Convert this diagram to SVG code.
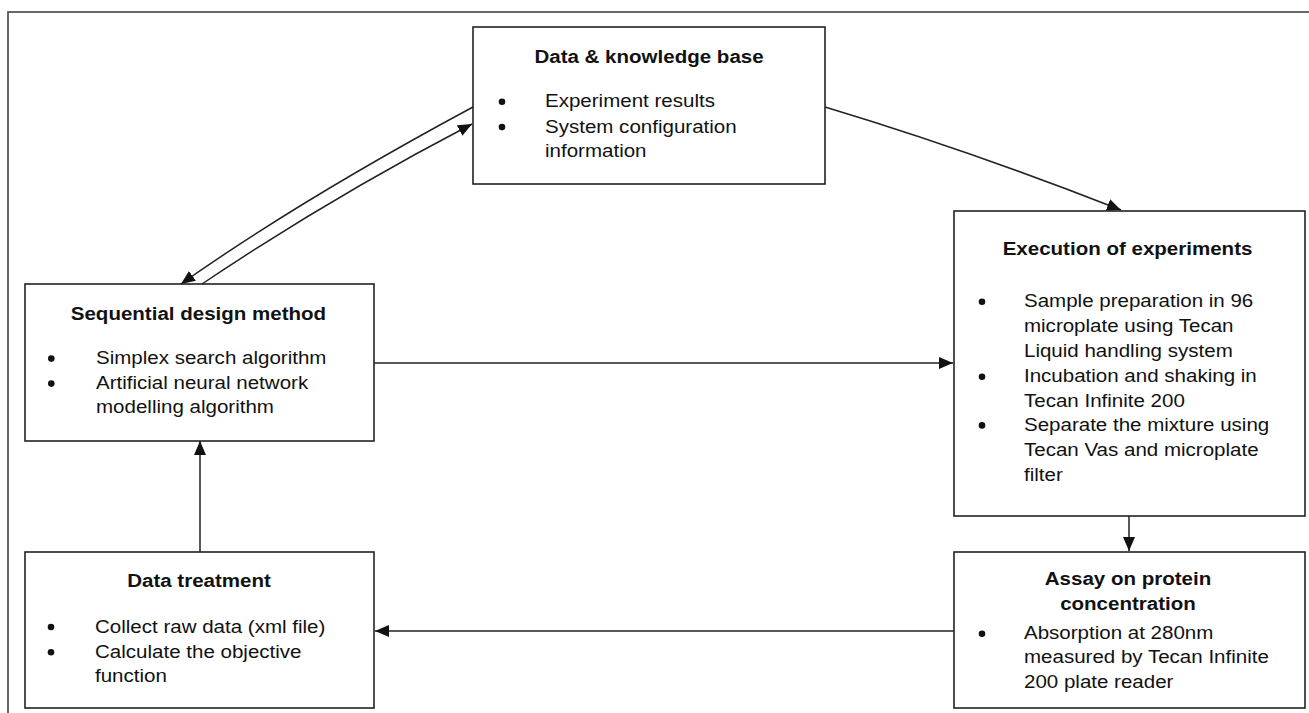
<svg xmlns="http://www.w3.org/2000/svg" width="1309" height="713" viewBox="0 0 1309 713">
<defs>
<marker id="arr" viewBox="0 0 14 12" refX="14" refY="6" markerWidth="14" markerHeight="12" markerUnits="userSpaceOnUse" orient="auto">
<path d="M0,0 L14,6 L0,12 Z" fill="#111"/>
</marker>
<style>
.box{fill:#fff;stroke:#222;stroke-width:1.6}
.frame{fill:none;stroke:#444;stroke-width:1.6}
.conn{fill:none;stroke:#222;stroke-width:1.5;marker-end:url(#arr)}
.t{font-family:"Liberation Sans",Arial,sans-serif;font-size:18.5px;fill:#111}
.h{font-weight:bold;text-anchor:middle}
.b{fill:#111}
</style>
</defs>
<rect x="0" y="0" width="1309" height="713" fill="#fff"/>
<rect class="frame" x="8" y="12" width="1320" height="720"/>

<g id="data-knowledge-base">
<rect class="box" x="473" y="27" width="352" height="157"/>
<circle class="b" cx="502" cy="101.7" r="3.3"/>
<circle class="b" cx="502" cy="127.1" r="3.3"/>
<g transform="scale(1.11 1)">
<text class="t h" x="584.7" y="63">Data &amp; knowledge base</text>
<text class="t" x="491" y="107.3">Experiment results</text>
<text class="t" x="491" y="132.7">System configuration</text>
<text class="t" x="491" y="157">information</text>
</g>
</g>

<g id="sequential-design-method">
<rect class="box" x="25" y="284" width="349" height="157"/>
<circle class="b" cx="51.3" cy="358.6" r="3.3"/>
<circle class="b" cx="51.3" cy="383.6" r="3.3"/>
<g transform="scale(1.11 1)">
<text class="t h" x="178.8" y="320.5">Sequential design method</text>
<text class="t" x="86.5" y="364.3">Simplex search algorithm</text>
<text class="t" x="86.5" y="389.3">Artificial neural network</text>
<text class="t" x="86.5" y="413.5">modelling algorithm</text>
</g>
</g>

<g id="data-treatment">
<rect class="box" x="25" y="552" width="349" height="156"/>
<circle class="b" cx="51" cy="627" r="3.3"/>
<circle class="b" cx="51" cy="652.3" r="3.3"/>
<g transform="scale(1.11 1)">
<text class="t h" x="179.3" y="587.3">Data treatment</text>
<text class="t" x="85.6" y="632.7">Collect raw data (xml file)</text>
<text class="t" x="85.6" y="658">Calculate the objective</text>
<text class="t" x="85.6" y="681.7">function</text>
</g>
</g>

<g id="execution-of-experiments">
<rect class="box" x="954" y="211" width="351" height="305"/>
<circle class="b" cx="982" cy="301.7" r="3.3"/>
<circle class="b" cx="982" cy="376.7" r="3.3"/>
<circle class="b" cx="982" cy="425.4" r="3.3"/>
<g transform="scale(1.11 1)">
<text class="t h" x="1015.8" y="255">Execution of experiments</text>
<text class="t" x="922.5" y="307.3">Sample preparation in 96</text>
<text class="t" x="922.5" y="332.3">microplate using Tecan</text>
<text class="t" x="922.5" y="356.7">Liquid handling system</text>
<text class="t" x="922.5" y="382.3">Incubation and shaking in</text>
<text class="t" x="922.5" y="406.7">Tecan Infinite 200</text>
<text class="t" x="922.5" y="431">Separate the mixture using</text>
<text class="t" x="922.5" y="456">Tecan Vas and microplate</text>
<text class="t" x="922.5" y="480.7">filter</text>
</g>
</g>

<g id="assay-protein-concentration">
<rect class="box" x="954" y="552" width="351" height="156"/>
<circle class="b" cx="982" cy="633.7" r="3.3"/>
<g transform="scale(1.11 1)">
<text class="t h" x="1016.2" y="585">Assay on protein</text>
<text class="t h" x="1016.2" y="610">concentration</text>
<text class="t" x="922.5" y="639.3">Absorption at 280nm</text>
<text class="t" x="922.5" y="663.3">measured by Tecan Infinite</text>
<text class="t" x="922.5" y="687.7">200 plate reader</text>
</g>
</g>

<g id="connectors">
<path class="conn" d="M825,107 Q968,150 1121,210"/>
<path class="conn" d="M473,107 Q300,200 181,284"/>
<path class="conn" d="M202,284 Q330,198 472,124"/>
<path class="conn" d="M374,363 H953"/>
<path class="conn" d="M200,552 V441"/>
<path class="conn" d="M1129,516 V551"/>
<path class="conn" d="M954,631 H375"/>
</g>
</svg>
